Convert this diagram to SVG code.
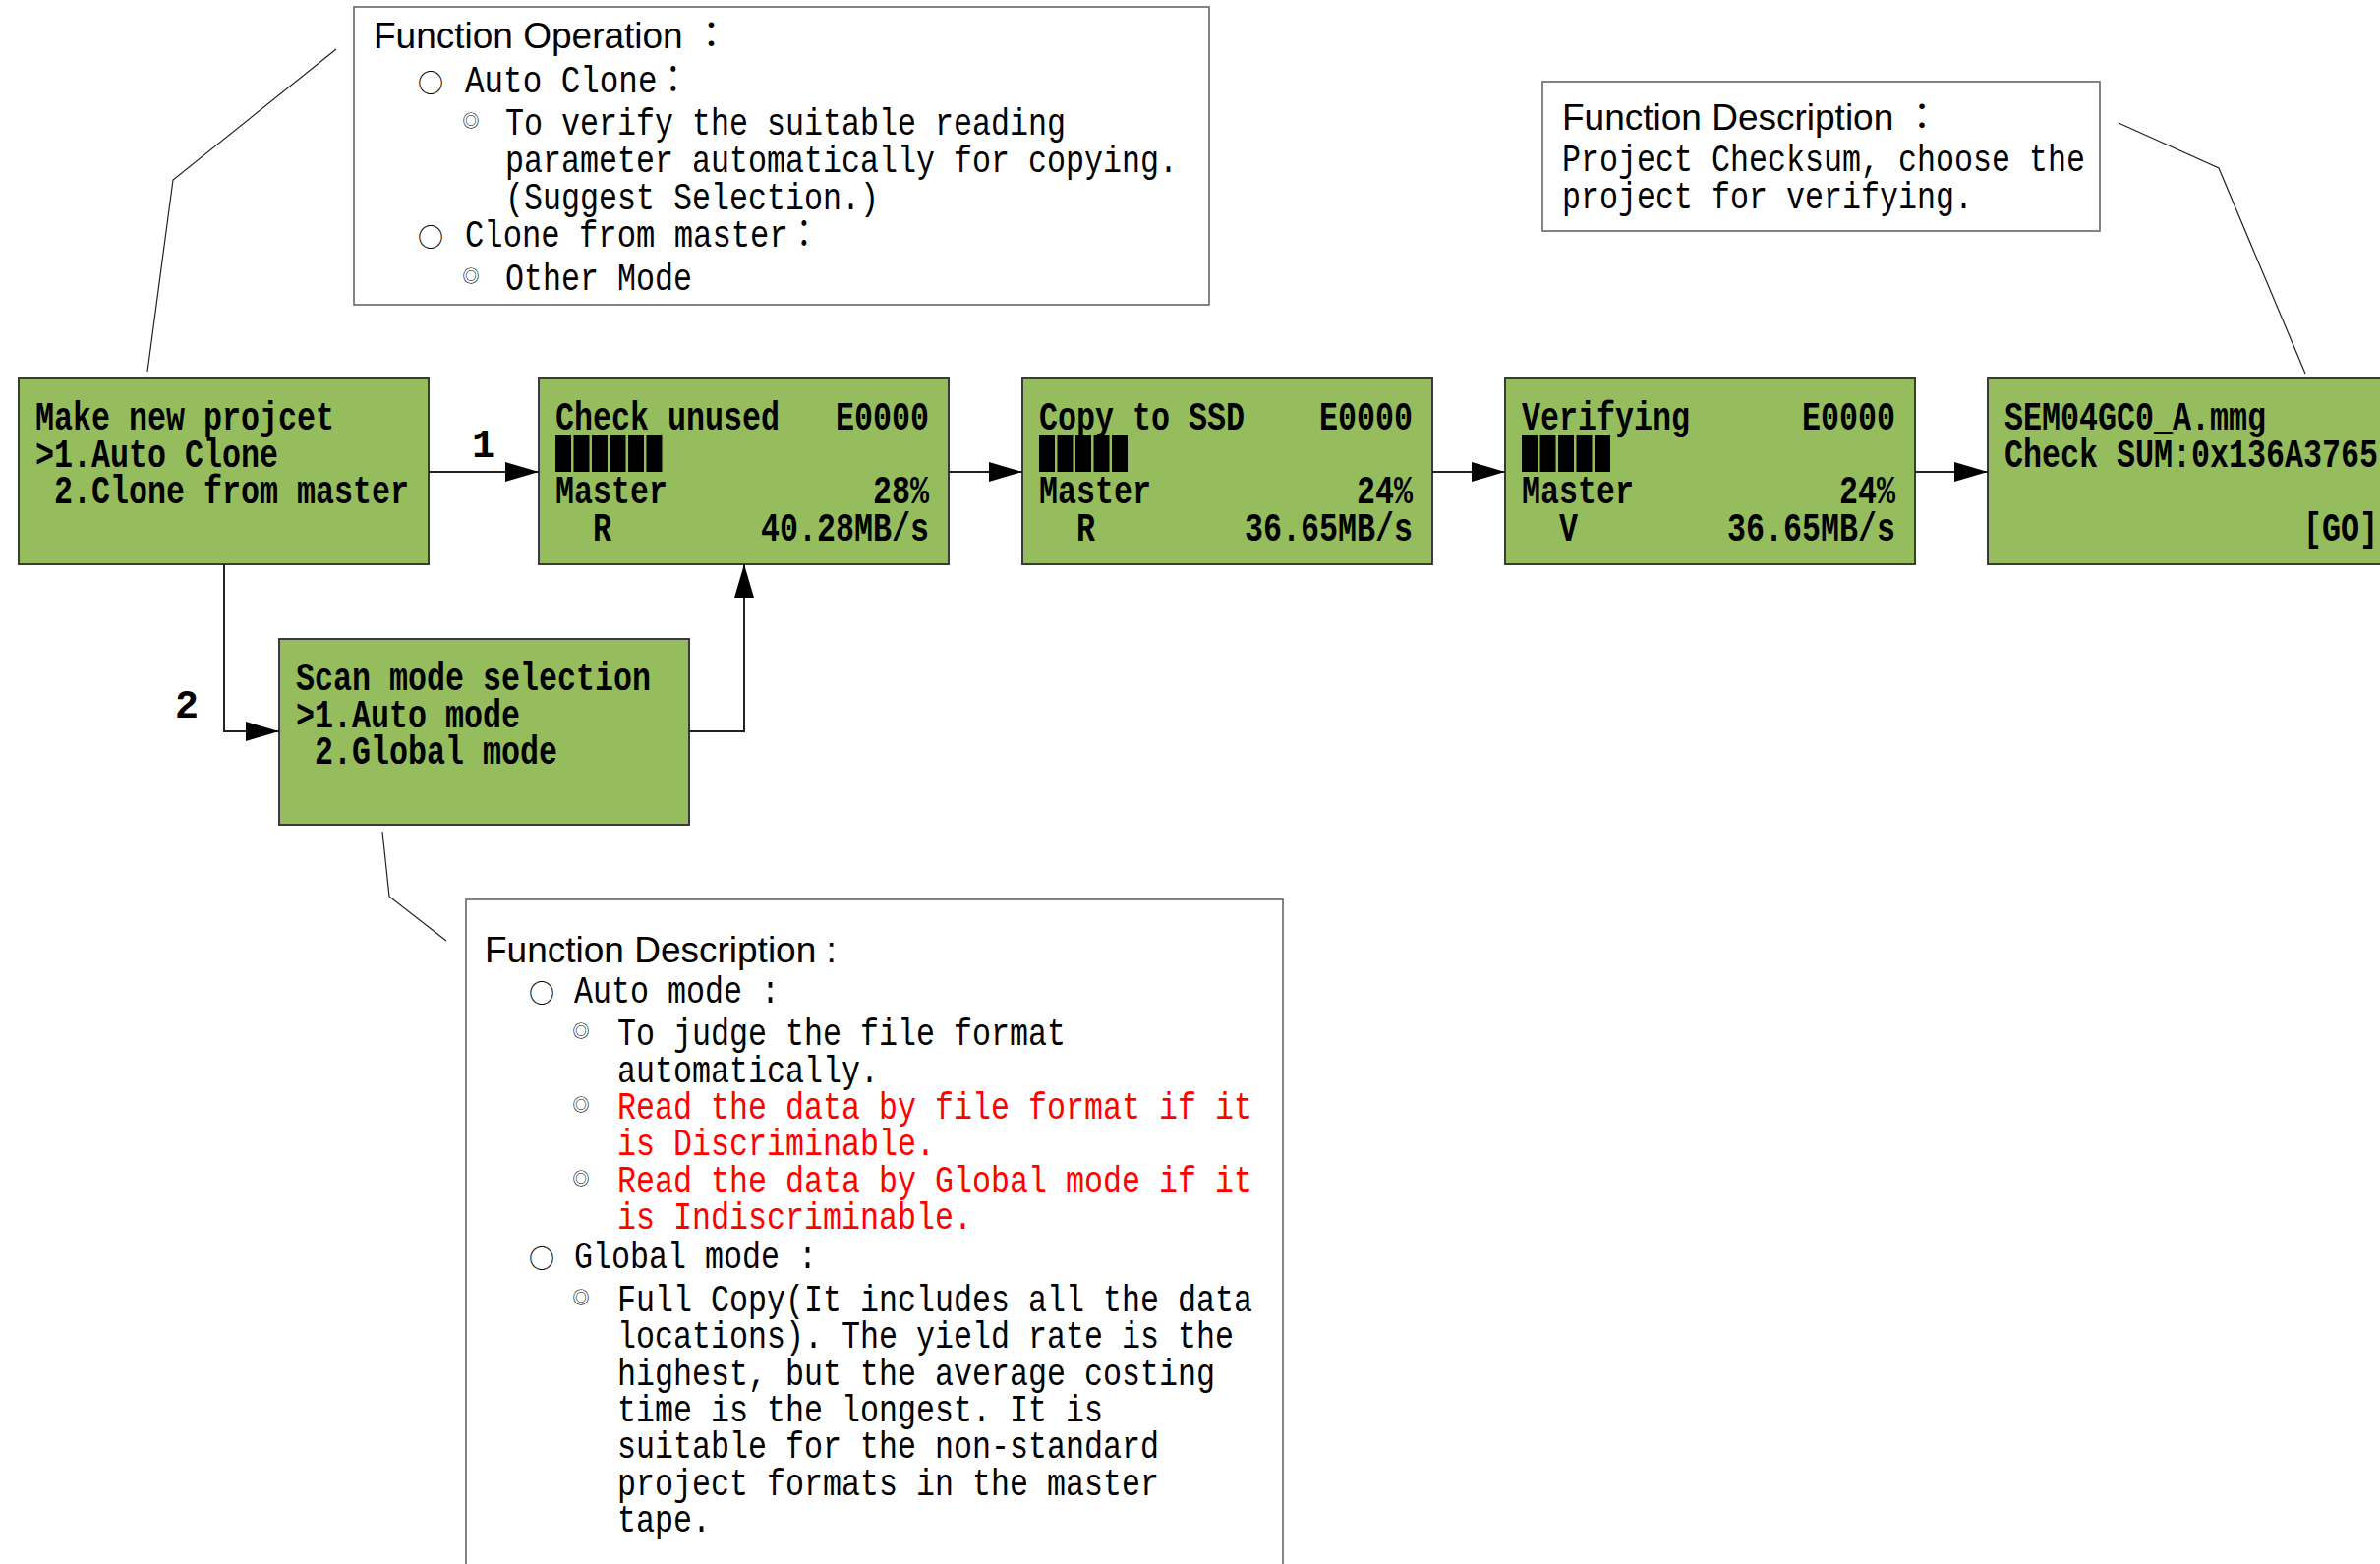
<svg xmlns="http://www.w3.org/2000/svg" width="2421" height="1591" viewBox="0 0 2421 1591">
<style>
.bg{fill:#ffffff}
.node{fill:#95BD5E;stroke:#3a3a3a;stroke-width:2}
.call{fill:#ffffff;stroke:#666666;stroke-width:1.6}
.n{font-family:"Liberation Mono","DejaVu Sans Mono",monospace;font-size:40px;font-weight:bold;fill:#000}
.m{font-family:"Liberation Mono","Noto Sans CJK JP","DejaVu Sans Mono",monospace;font-size:39px;fill:#000}
.h{font-family:"Liberation Sans","Noto Sans CJK JP",sans-serif;font-size:37px;fill:#000}
.red{fill:#FF0000}
.o{font-family:"Noto Sans CJK JP","DejaVu Sans",sans-serif;font-size:26px;fill:#000;text-anchor:middle}
.dd{font-family:"Noto Sans CJK JP","DejaVu Sans",sans-serif;font-size:17px;fill:#000;text-anchor:middle}
.bar{fill:#000}
.conn{fill:none;stroke:#222;stroke-width:2}
.lead{fill:none;stroke:#222;stroke-width:1.2}
.lbl{font-family:"Liberation Mono","DejaVu Sans Mono",monospace;font-size:40px;font-weight:bold;fill:#000;text-anchor:middle}
</style>
<defs>
<marker id="arr" markerUnits="userSpaceOnUse" markerWidth="34" markerHeight="20" refX="34" refY="10" orient="auto">
<path d="M0,0 L34,10 L0,20 z" fill="#000"/>
</marker>
</defs>
<rect class="bg" x="0" y="0" width="2421" height="1591"/>

<g id="callout-operation">
<rect class="call" x="360" y="7" width="870" height="303"/>
<text class="h" x="380" y="49">Function Operation ：</text>
<text class="o" x="438" y="94">○</text>
<text class="m" x="473" y="94" textLength="228" lengthAdjust="spacingAndGlyphs">Auto Clone：</text>
<text class="dd" x="479" y="129">◎</text>
<text class="m" x="514" y="137" textLength="570" lengthAdjust="spacingAndGlyphs">To verify the suitable reading</text>
<text class="m" x="514" y="175" textLength="684" lengthAdjust="spacingAndGlyphs">parameter automatically for copying.</text>
<text class="m" x="514" y="213" textLength="380" lengthAdjust="spacingAndGlyphs">(Suggest Selection.)</text>
<text class="o" x="438" y="251">○</text>
<text class="m" x="473" y="251" textLength="361" lengthAdjust="spacingAndGlyphs">Clone from master：</text>
<text class="dd" x="479" y="287">◎</text>
<text class="m" x="514" y="295" textLength="190" lengthAdjust="spacingAndGlyphs">Other Mode</text>
</g>

<g id="callout-checksum">
<rect class="call" x="1569" y="83" width="567" height="152"/>
<text class="h" x="1589" y="132">Function Description ：</text>
<text class="m" x="1589" y="174" textLength="532" lengthAdjust="spacingAndGlyphs">Project Checksum, choose the</text>
<text class="m" x="1589" y="212" textLength="418" lengthAdjust="spacingAndGlyphs">project for verifying.</text>
</g>

<g id="callout-scanmode">
<rect class="call" x="474" y="915" width="831" height="720"/>
<text class="h" x="493" y="979">Function Description :</text>
<text class="o" x="551" y="1020">○</text>
<text class="m" x="584" y="1020" textLength="209" lengthAdjust="spacingAndGlyphs">Auto mode :</text>
<text class="dd" x="591" y="1055">◎</text>
<text class="m" x="628" y="1063" textLength="456" lengthAdjust="spacingAndGlyphs">To judge the file format</text>
<text class="m" x="628" y="1101" textLength="266" lengthAdjust="spacingAndGlyphs">automatically.</text>
<text class="dd" x="591" y="1130">◎</text>
<text class="m red" x="628" y="1138" textLength="646" lengthAdjust="spacingAndGlyphs">Read the data by file format if it</text>
<text class="m red" x="628" y="1175" textLength="323" lengthAdjust="spacingAndGlyphs">is Discriminable.</text>
<text class="dd" x="591" y="1205">◎</text>
<text class="m red" x="628" y="1213" textLength="646" lengthAdjust="spacingAndGlyphs">Read the data by Global mode if it</text>
<text class="m red" x="628" y="1250" textLength="361" lengthAdjust="spacingAndGlyphs">is Indiscriminable.</text>
<text class="o" x="551" y="1290">○</text>
<text class="m" x="584" y="1290" textLength="247" lengthAdjust="spacingAndGlyphs">Global mode :</text>
<text class="dd" x="591" y="1326">◎</text>
<text class="m" x="628" y="1334" textLength="646" lengthAdjust="spacingAndGlyphs">Full Copy(It includes all the data</text>
<text class="m" x="628" y="1371" textLength="627" lengthAdjust="spacingAndGlyphs">locations). The yield rate is the</text>
<text class="m" x="628" y="1409" textLength="608" lengthAdjust="spacingAndGlyphs">highest, but the average costing</text>
<text class="m" x="628" y="1446" textLength="494" lengthAdjust="spacingAndGlyphs">time is the longest. It is</text>
<text class="m" x="628" y="1483" textLength="551" lengthAdjust="spacingAndGlyphs">suitable for the non-standard</text>
<text class="m" x="628" y="1521" textLength="551" lengthAdjust="spacingAndGlyphs">project formats in the master</text>
<text class="m" x="628" y="1558" textLength="95" lengthAdjust="spacingAndGlyphs">tape.</text>
</g>

<g id="node-make-project">
<rect class="node" x="19" y="385" width="417" height="189"/>
<text class="n" x="36" y="437" textLength="304" lengthAdjust="spacingAndGlyphs">Make new projcet</text>
<text class="n" x="36" y="474.5" textLength="247" lengthAdjust="spacingAndGlyphs">&gt;1.Auto Clone</text>
<text class="n" x="55" y="512" textLength="361" lengthAdjust="spacingAndGlyphs">2.Clone from master</text>
</g>

<g id="node-check-unused">
<rect class="node" x="548" y="385" width="417" height="189"/>
<text class="n" x="565" y="437" textLength="228" lengthAdjust="spacingAndGlyphs">Check unused</text>
<text class="n" x="850" y="437" textLength="95" lengthAdjust="spacingAndGlyphs">E0000</text>
<rect class="bar" x="565" y="443" width="16" height="37"/>
<rect class="bar" x="583.5" y="443" width="16" height="37"/>
<rect class="bar" x="602" y="443" width="16" height="37"/>
<rect class="bar" x="620.5" y="443" width="16" height="37"/>
<rect class="bar" x="639" y="443" width="16" height="37"/>
<rect class="bar" x="657.5" y="443" width="16" height="37"/>
<text class="n" x="565" y="512" textLength="114" lengthAdjust="spacingAndGlyphs">Master</text>
<text class="n" x="888" y="512" textLength="57" lengthAdjust="spacingAndGlyphs">28%</text>
<text class="n" x="603" y="550" textLength="19" lengthAdjust="spacingAndGlyphs">R</text>
<text class="n" x="774" y="550" textLength="171" lengthAdjust="spacingAndGlyphs">40.28MB/s</text>
</g>

<g id="node-copy-ssd">
<rect class="node" x="1040" y="385" width="417" height="189"/>
<text class="n" x="1057" y="437" textLength="209" lengthAdjust="spacingAndGlyphs">Copy to SSD</text>
<text class="n" x="1342" y="437" textLength="95" lengthAdjust="spacingAndGlyphs">E0000</text>
<rect class="bar" x="1057" y="443" width="16" height="37"/>
<rect class="bar" x="1075.5" y="443" width="16" height="37"/>
<rect class="bar" x="1094" y="443" width="16" height="37"/>
<rect class="bar" x="1112.5" y="443" width="16" height="37"/>
<rect class="bar" x="1131" y="443" width="16" height="37"/>
<text class="n" x="1057" y="512" textLength="114" lengthAdjust="spacingAndGlyphs">Master</text>
<text class="n" x="1380" y="512" textLength="57" lengthAdjust="spacingAndGlyphs">24%</text>
<text class="n" x="1095" y="550" textLength="19" lengthAdjust="spacingAndGlyphs">R</text>
<text class="n" x="1266" y="550" textLength="171" lengthAdjust="spacingAndGlyphs">36.65MB/s</text>
</g>

<g id="node-verifying">
<rect class="node" x="1531" y="385" width="417" height="189"/>
<text class="n" x="1548" y="437" textLength="171" lengthAdjust="spacingAndGlyphs">Verifying</text>
<text class="n" x="1833" y="437" textLength="95" lengthAdjust="spacingAndGlyphs">E0000</text>
<rect class="bar" x="1548" y="443" width="16" height="37"/>
<rect class="bar" x="1566.5" y="443" width="16" height="37"/>
<rect class="bar" x="1585" y="443" width="16" height="37"/>
<rect class="bar" x="1603.5" y="443" width="16" height="37"/>
<rect class="bar" x="1622" y="443" width="16" height="37"/>
<text class="n" x="1548" y="512" textLength="114" lengthAdjust="spacingAndGlyphs">Master</text>
<text class="n" x="1871" y="512" textLength="57" lengthAdjust="spacingAndGlyphs">24%</text>
<text class="n" x="1586" y="550" textLength="19" lengthAdjust="spacingAndGlyphs">V</text>
<text class="n" x="1757" y="550" textLength="171" lengthAdjust="spacingAndGlyphs">36.65MB/s</text>
</g>

<g id="node-checksum">
<rect class="node" x="2022" y="385" width="417" height="189"/>
<text class="n" x="2039" y="437" textLength="266" lengthAdjust="spacingAndGlyphs">SEM04GC0_A.mmg</text>
<text class="n" x="2039" y="474.5" textLength="380" lengthAdjust="spacingAndGlyphs">Check SUM:0x136A3765</text>
<text class="n" x="2343" y="550" textLength="76" lengthAdjust="spacingAndGlyphs">[GO]</text>
</g>

<g id="node-scan-mode">
<rect class="node" x="284" y="650" width="417" height="189"/>
<text class="n" x="301" y="702" textLength="361" lengthAdjust="spacingAndGlyphs">Scan mode selection</text>
<text class="n" x="301" y="739.5" textLength="228" lengthAdjust="spacingAndGlyphs">&gt;1.Auto mode</text>
<text class="n" x="320" y="777" textLength="247" lengthAdjust="spacingAndGlyphs">2.Global mode</text>
</g>

<g id="connectors">
<path class="conn" d="M436,480 H548" marker-end="url(#arr)"/>
<path class="conn" d="M965,480 H1040" marker-end="url(#arr)"/>
<path class="conn" d="M1457,480 H1531" marker-end="url(#arr)"/>
<path class="conn" d="M1948,480 H2022" marker-end="url(#arr)"/>
<path class="conn" d="M228,574 V744 H284" marker-end="url(#arr)"/>
<path class="conn" d="M701,744 H757 V574" marker-end="url(#arr)"/>
<text class="lbl" x="492" y="465">1</text>
<text class="lbl" x="190" y="730">2</text>
<path class="lead" d="M342,50 L176,183 L150,378"/>
<path class="lead" d="M2155,125 L2257,171 L2345,380"/>
<path class="lead" d="M389,846 L396,912 L454,957"/>
</g>
</svg>
